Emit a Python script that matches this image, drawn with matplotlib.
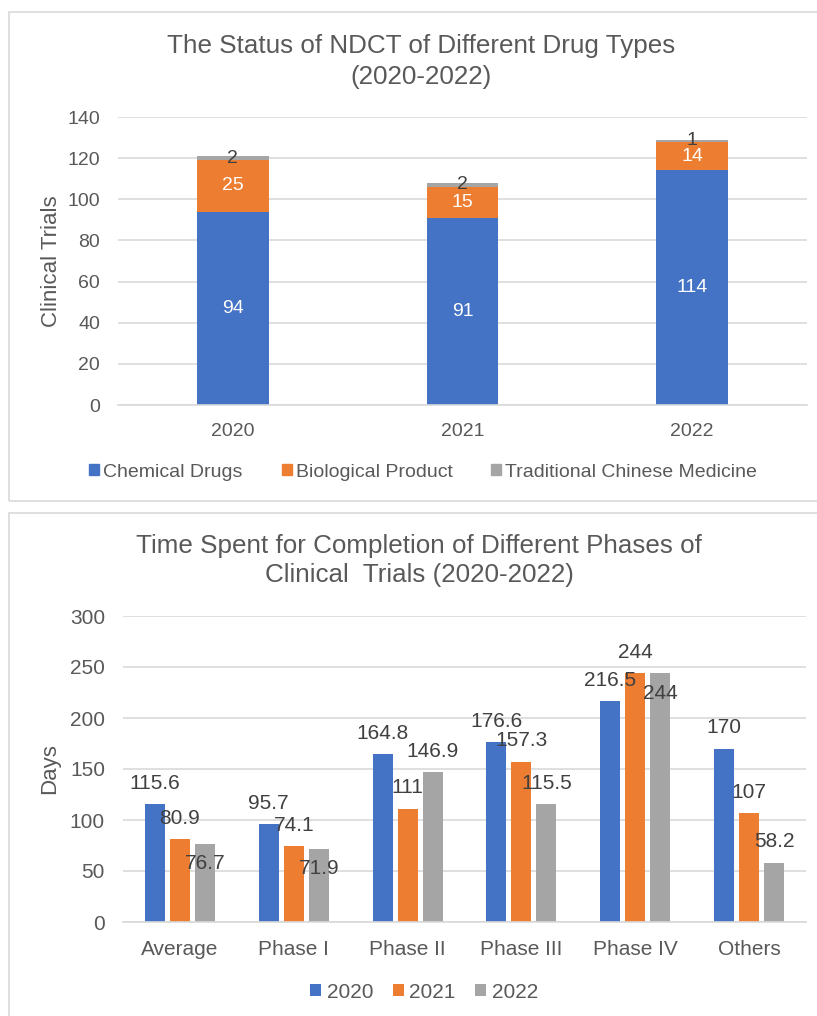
import numpy as np
import matplotlib
matplotlib.use('Agg')
import matplotlib.pyplot as plt
from matplotlib.patches import Patch, Rectangle

plt.rcParams['font.family'] = ['Liberation Sans', 'DejaVu Sans']

# --- data: top chart ---
years = ['2020', '2021', '2022']
chemical = [94, 91, 114]
biological = [25, 15, 14]
tcm = [2, 2, 1]

# --- data: bottom chart ---
phases = ['Average', 'Phase I', 'Phase II', 'Phase III', 'Phase IV', 'Others']
days_2020 = [115.6, 95.7, 164.8, 176.6, 216.5, 170]
days_2021 = [80.9, 74.1, 111, 157.3, 244, 107]
days_2022 = [76.7, 71.9, 146.9, 115.5, 244, 58.2]
# labels that Excel had dropped below the bar top: (series, category)
labels_below = [(2, 0), (2, 1), (2, 4)]

BLUE, ORANGE, GRAY = '#4472C4', '#ED7D31', '#A5A5A5'
TXT = '#595959'
LBL = '#404040'
GRID = '#D9D9D9'

fig = plt.figure(figsize=(8.17, 10.16), dpi=100)

# panel frames
fig.patches.append(Rectangle((9 / 817, 1 - 501 / 1016), 1.0, 489 / 1016,
                             transform=fig.transFigure, fill=False,
                             edgecolor=GRID, lw=1.2))
fig.patches.append(Rectangle((9 / 817, -0.02), 1.0, 1 - 513 / 1016 + 0.02,
                             transform=fig.transFigure, fill=False,
                             edgecolor=GRID, lw=1.2))


def style_axes(ax, fs, xpad, ypad):
    for s in ['top', 'right', 'left']:
        ax.spines[s].set_visible(False)
    ax.spines['bottom'].set_color(GRID)
    ax.spines['bottom'].set_linewidth(1.2)
    ax.grid(axis='y', color=GRID, linewidth=1.2)
    ax.set_axisbelow(True)
    ax.tick_params(axis='both', length=0, labelsize=fs, colors=TXT)
    ax.tick_params(axis='x', pad=xpad)
    ax.tick_params(axis='y', pad=ypad)


# ---------------- top chart ----------------
ax1 = fig.add_axes([118 / 817, 1 - 405 / 1016, 689 / 817, 288 / 1016])
x = np.arange(len(years))
w = 0.313
b1 = ax1.bar(x, chemical, w, color=BLUE)
b2 = ax1.bar(x, biological, w, bottom=chemical, color=ORANGE)
base3 = np.array(chemical) + np.array(biological)
b3 = ax1.bar(x, tcm, w, bottom=base3, color=GRAY)
ax1.bar_label(b1, label_type='center', color='white', fontsize=14)
ax1.bar_label(b2, label_type='center', color='white', fontsize=14)
ax1.bar_label(b3, label_type='center', color=LBL, fontsize=14)
ax1.set_xlim(-0.5, len(years) - 0.5)
ax1.set_ylim(0, 140)
ax1.set_yticks(np.arange(0, 141, 20))
ax1.set_xticks(x, years)
style_axes(ax1, 14, 13, 13)
ax1.set_ylabel('Clinical Trials', fontsize=16, color=TXT, labelpad=3.5)

fig.text(0.515, 1 - 61.5 / 1016,
         'The Status of NDCT of Different Drug Types\n(2020-2022)',
         ha='center', va='center', fontsize=18.7, color=TXT, linespacing=1.32)

fig.legend(handles=[Patch(color=BLUE, label='Chemical Drugs'),
                    Patch(color=ORANGE, label='Biological Product'),
                    Patch(color=GRAY, label='Traditional Chinese Medicine')],
           loc='center', bbox_to_anchor=(0.518, 1 - 472 / 1016), ncol=3,
           frameon=False, fontsize=14, labelcolor=TXT,
           handlelength=0.52, handleheight=0.52, handletextpad=0.2,
           columnspacing=2.0, borderpad=0)

# ---------------- bottom chart ----------------
ax2 = fig.add_axes([123 / 817, 1 - 922 / 1016, 683 / 817, 306 / 1016])
xc = np.arange(len(phases))
bw = 0.176
step = 0.22
series = [days_2020, days_2021, days_2022]
colors = [BLUE, ORANGE, GRAY]
for i, (vals, c) in enumerate(zip(series, colors)):
    bars = ax2.bar(xc + (i - 1) * step, vals, bw, color=c, label=years[i])
    for j, (r, v) in enumerate(zip(bars, vals)):
        dy = -14.4 if (i, j) in labels_below else 15
        ax2.annotate(f'{v:g}', (r.get_x() + r.get_width() / 2, v),
                     xytext=(0, dy), textcoords='offset points',
                     ha='center', va='center', fontsize=15, color=LBL)
ax2.set_xlim(-0.5, len(phases) - 0.5)
ax2.set_ylim(0, 300)
ax2.set_yticks(np.arange(0, 301, 50))
ax2.set_xticks(xc, phases)
style_axes(ax2, 15, 13, 13)
ax2.set_ylabel('Days', fontsize=16, color=TXT, labelpad=7)

fig.text(0.513, 1 - 560.5 / 1016,
         'Time Spent for Completion of Different Phases of\nClinical  Trials (2020-2022)',
         ha='center', va='center', fontsize=18.7, color=TXT, linespacing=1.24)

ax2.legend(loc='center', bbox_to_anchor=(0.519, 1 - 992 / 1016),
           bbox_transform=fig.transFigure, ncol=3, frameon=False,
           fontsize=15, labelcolor=TXT, handlelength=0.53, handleheight=0.53,
           handletextpad=0.25, columnspacing=0.95, borderpad=0)

fig.savefig('out.png', dpi=100, facecolor='white')
